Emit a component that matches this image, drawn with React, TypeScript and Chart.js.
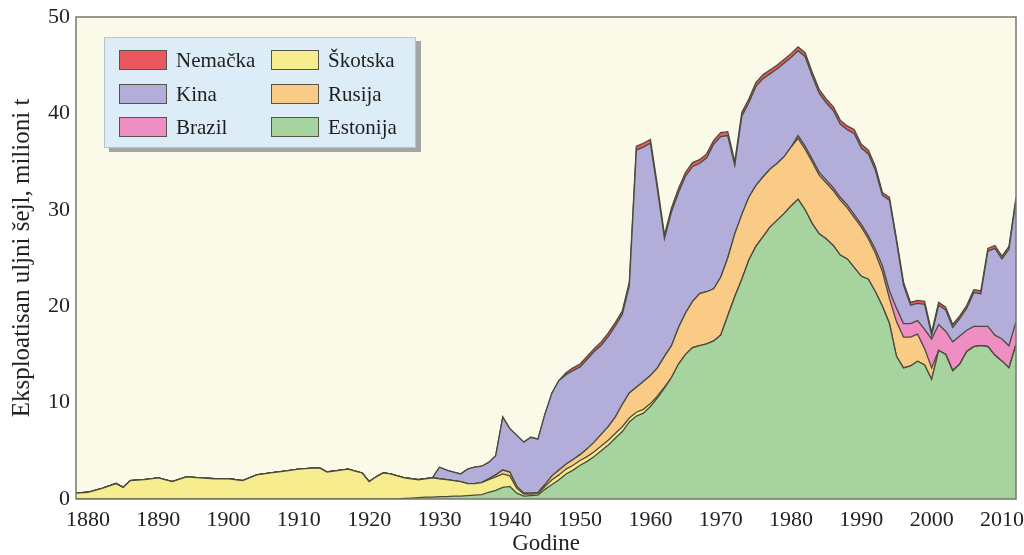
import React, { useEffect, useRef } from "react";
import { Chart, registerables } from "chart.js";

Chart.register(...registerables);

// ---- data (million tonnes of oil shale) ----
const years = [
  1878, 1880, 1882, 1884, 1885, 1886, 1888, 1890, 1892, 1894,
  1896, 1898, 1900, 1902, 1904, 1906, 1908, 1910, 1912, 1913,
  1914, 1916, 1917, 1918, 1919, 1920, 1921, 1922, 1923, 1924,
  1925, 1926, 1927, 1928, 1929,
  1930, 1931, 1932, 1933, 1934, 1935, 1936, 1937, 1938, 1939,
  1940, 1941, 1942, 1943, 1944, 1945, 1946, 1947, 1948, 1949,
  1950, 1951, 1952, 1953, 1954, 1955, 1956, 1957, 1958, 1959,
  1960, 1961, 1962, 1963, 1964, 1965, 1966, 1967, 1968, 1969,
  1970, 1971, 1972, 1973, 1974, 1975, 1976, 1977, 1978, 1979,
  1980, 1981, 1982, 1983, 1984, 1985, 1986, 1987, 1988, 1989,
  1990, 1991, 1992, 1993, 1994, 1995, 1996, 1997, 1998, 1999,
  2000, 2001, 2002, 2003, 2004, 2005, 2006, 2007, 2008, 2009,
  2010, 2011, 2012,
];

const estonija = [
  0, 0, 0, 0, 0, 0, 0, 0, 0, 0,
  0, 0, 0, 0, 0, 0, 0, 0, 0, 0,
  0, 0, 0, 0, 0, 0, 0, 0, 0, 0,
  0.05, 0.1, 0.15, 0.2, 0.2,
  0.25, 0.25, 0.3, 0.3, 0.35, 0.4, 0.45, 0.7, 0.9, 1.2,
  1.3, 0.6, 0.3, 0.35, 0.4, 1.0, 1.5, 2.0, 2.6, 3.0,
  3.5, 3.9, 4.4, 5.0, 5.6, 6.3, 7.0, 8.0, 8.6, 8.9,
  9.6, 10.5, 11.5, 12.6, 14.0, 15.0, 15.7, 15.9, 16.1, 16.4,
  17.0, 19.0, 21.0, 22.8, 24.8, 26.2, 27.2, 28.2, 28.9, 29.6,
  30.4, 31.1, 30.0, 28.6, 27.5, 27.0, 26.3, 25.3, 24.9, 24.0,
  23.1, 22.8, 21.5, 20.0, 18.2, 14.8, 13.6, 13.8, 14.3, 13.9,
  12.4, 15.4, 15.0, 13.3, 14.0, 15.3, 15.8, 15.9, 15.8, 14.9,
  14.3, 13.6, 16.0,
];

const skotska = [
  0.6, 0.7, 1.1, 1.6, 1.2, 1.9, 2.0, 2.2, 1.8, 2.3,
  2.2, 2.1, 2.1, 1.9, 2.5, 2.7, 2.9, 3.1, 3.2, 3.2,
  2.8, 3.0, 3.1, 2.9, 2.7, 1.8, 2.3, 2.7, 2.6, 2.4,
  2.15, 2.0, 1.85, 1.9, 2.0,
  1.85, 1.75, 1.6, 1.5, 1.25, 1.2, 1.25, 1.3, 1.4, 1.4,
  1.1, 0.5, 0.2, 0.15, 0.15, 0.3, 0.5, 0.5, 0.5, 0.5,
  0.5, 0.5, 0.5, 0.5, 0.5, 0.5, 0.5, 0.4, 0.4, 0.4,
  0.3, 0.2, 0.1, 0, 0, 0, 0, 0, 0, 0,
  0, 0, 0, 0, 0, 0, 0, 0, 0, 0,
  0, 0, 0, 0, 0, 0, 0, 0, 0, 0,
  0, 0, 0, 0, 0, 0, 0, 0, 0, 0,
  0, 0, 0, 0, 0, 0, 0, 0, 0, 0,
  0, 0, 0,
];

const rusija = [
  0, 0, 0, 0, 0, 0, 0, 0, 0, 0,
  0, 0, 0, 0, 0, 0, 0, 0, 0, 0,
  0, 0, 0, 0, 0, 0, 0, 0, 0, 0,
  0, 0, 0, 0, 0,
  0, 0, 0, 0, 0, 0, 0, 0.1, 0.2, 0.4,
  0.4, 0.2, 0.1, 0.1, 0.1, 0.2, 0.4, 0.5, 0.5, 0.6,
  0.6, 0.8, 1.0, 1.2, 1.4, 1.7, 2.3, 2.6, 2.6, 2.9,
  2.9, 2.9, 3.2, 3.3, 3.8, 4.3, 4.8, 5.4, 5.4, 5.4,
  6.0, 6.0, 6.5, 6.7, 6.5, 6.3, 6.2, 6.0, 5.9, 5.9,
  6.1, 6.3, 6.3, 6.4, 6.1, 5.8, 5.7, 5.7, 5.3, 5.2,
  5.1, 4.2, 4.0, 3.6, 2.6, 3.6, 3.2, 3.0, 2.8, 1.7,
  1.2, 0, 0, 0, 0, 0, 0, 0, 0, 0,
  0, 0, 0,
];

const brazil = [
  0, 0, 0, 0, 0, 0, 0, 0, 0, 0,
  0, 0, 0, 0, 0, 0, 0, 0, 0, 0,
  0, 0, 0, 0, 0, 0, 0, 0, 0, 0,
  0, 0, 0, 0, 0,
  0, 0, 0, 0, 0, 0, 0, 0, 0, 0,
  0, 0, 0, 0, 0, 0, 0, 0, 0, 0,
  0, 0, 0, 0, 0, 0, 0, 0, 0, 0,
  0, 0, 0, 0, 0, 0, 0, 0, 0, 0,
  0, 0, 0, 0, 0, 0, 0, 0, 0, 0,
  0, 0.3, 0.3, 0.3, 0.3, 0.3, 0.3, 0.3, 0.3, 0.3,
  0.3, 0.3, 0.4, 0.6, 0.8, 1.4, 1.4, 1.4, 1.4, 2.0,
  3.0, 2.7, 2.4, 3.0, 2.9, 2.2, 2.1, 2.0, 2.1, 2.1,
  2.3, 2.3, 2.4,
];

const kina = [
  0, 0, 0, 0, 0, 0, 0, 0, 0, 0,
  0, 0, 0, 0, 0, 0, 0, 0, 0, 0,
  0, 0, 0, 0, 0, 0, 0, 0, 0, 0,
  0, 0, 0, 0, 0,
  1.2, 1.0, 0.9, 0.8, 1.5, 1.7, 1.7, 1.7, 2.0, 5.5,
  4.5, 5.3, 5.3, 5.8, 5.55, 7.3, 8.6, 9.3, 9.3, 9.2,
  9.1, 9.3, 9.4, 9.25, 9.35, 9.45, 9.35, 11.1, 24.6, 24.3,
  24.1, 18.5, 12.2, 13.9, 14.0, 14.2, 14.0, 13.5, 13.9, 15.0,
  14.6, 12.7, 7.1, 10.2, 9.8, 10.3, 10.2, 9.9, 9.8, 9.7,
  9.3, 8.8, 9.3, 8.6, 8.2, 8.0, 8.0, 7.6, 7.8, 8.4,
  7.9, 8.5, 8.2, 7.3, 9.4, 6.9, 4.0, 1.9, 1.8, 2.6,
  0.4, 2.0, 2.2, 1.5, 1.8, 2.3, 3.5, 3.4, 7.8, 9.0,
  8.3, 10.0, 12.6,
];

const nemacka = [
  0, 0, 0, 0, 0, 0, 0, 0, 0, 0,
  0, 0, 0, 0, 0, 0, 0, 0, 0, 0,
  0, 0, 0, 0, 0, 0, 0, 0, 0, 0,
  0, 0, 0, 0, 0,
  0, 0, 0, 0, 0, 0, 0, 0, 0, 0,
  0, 0, 0, 0, 0, 0, 0, 0, 0.2, 0.3,
  0.3, 0.3, 0.3, 0.35, 0.35, 0.35, 0.35, 0.4, 0.4, 0.4,
  0.4, 0.4, 0.4, 0.4, 0.4, 0.4, 0.4, 0.4, 0.4, 0.4,
  0.4, 0.4, 0.4, 0.4, 0.4, 0.4, 0.4, 0.4, 0.4, 0.4,
  0.4, 0.4, 0.4, 0.4, 0.4, 0.4, 0.4, 0.4, 0.4, 0.4,
  0.4, 0.4, 0.4, 0.3, 0.3, 0.3, 0.3, 0.3, 0.3, 0.3,
  0.3, 0.3, 0.3, 0.3, 0.3, 0.3, 0.3, 0.3, 0.3, 0.3,
  0.3, 0.3, 0.3,
];

const xTickYears = [1880, 1890, 1900, 1910, 1920, 1930, 1940, 1950, 1960, 1970, 1980, 1990, 2000, 2010];
const yTickValues = [0, 10, 20, 30, 40, 50];

const yTitle = "Eksploatisan uljni šejl, milioni t";
const xTitle = "Godine";

// stacking order bottom -> top
const seriesNames = ["Estonija", "Škotska", "Rusija", "Brazil", "Kina", "Nemačka"];
const seriesValues = [estonija, skotska, rusija, brazil, kina, nemacka];
const seriesColors = ["#A6D39E", "#F8ED8E", "#FACB86", "#EE8EC2", "#B3ADDA", "#E9585F"];

// legend layout (two columns)
const legendColumns = [
  ["Nemačka", "Kina", "Brazil"],
  ["Škotska", "Rusija", "Estonija"],
];

const FONT = "'Liberation Serif', 'Times New Roman', serif";

const bgPlugin = {
  id: "plotBackground",
  beforeDraw(chart: any) {
    const { ctx, chartArea } = chart;
    const { left, top, right, bottom } = chartArea;
    ctx.save();
    ctx.fillStyle = "#FBF9E7";
    ctx.fillRect(left, top, right - left, bottom - top);
    ctx.restore();
  },
  afterDatasetsDraw(chart: any) {
    const { ctx, chartArea } = chart;
    const { left, top, right, bottom } = chartArea;
    ctx.save();
    ctx.strokeStyle = "#77776c";
    ctx.lineWidth = 1.5;
    ctx.strokeRect(left, top, right - left, bottom - top);
    ctx.restore();
  },
};

export default function App() {
  const canvasRef = useRef<HTMLCanvasElement | null>(null);

  useEffect(() => {
    if (!canvasRef.current) return;
    const datasets = seriesNames.map((name, si) => ({
      label: name,
      data: years.map((yr, i) => ({ x: yr, y: seriesValues[si][i] })),
      backgroundColor: seriesColors[si],
      borderColor: "#4a4a3e",
      borderWidth: 1.3,
      pointRadius: 0,
      tension: 0,
      fill: si === 0 ? "origin" : "-1",
    }));

    const chart = new Chart(canvasRef.current, {
      type: "line",
      data: { datasets },
      plugins: [bgPlugin],
      options: {
        animation: false,
        responsive: false,
        devicePixelRatio: 1,
        layout: { padding: { top: 17, right: 8, left: 0, bottom: 0 } },
        plugins: {
          legend: { display: false },
          tooltip: { enabled: false },
        },
        scales: {
          x: {
            type: "linear",
            min: 1878.3,
            max: 2012,
            grid: { display: false, drawTicks: false },
            border: { display: false },
            afterBuildTicks: (scale: any) => {
              scale.ticks = xTickYears.map((v) => ({ value: v }));
            },
            afterFit: (scale: any) => {
              scale.height = 56;
              scale.paddingLeft = 0;
              scale.paddingRight = 0;
            },
            ticks: {
              autoSkip: false,
              maxRotation: 0,
              padding: 8,
              color: "#222",
              font: { family: FONT, size: 22 },
              callback: (v: any) => String(v),
            },
            title: {
              display: true,
              text: xTitle,
              color: "#222",
              font: { family: FONT, size: 23, lineHeight: 1.0 },
              padding: { top: 0, bottom: 0 },
            },
          },
          y: {
            type: "linear",
            stacked: true,
            min: 0,
            max: 50,
            grid: { display: false, drawTicks: false },
            border: { display: false },
            afterBuildTicks: (scale: any) => {
              scale.ticks = yTickValues.map((v) => ({ value: v }));
            },
            afterFit: (scale: any) => {
              scale.width = 76;
              scale.paddingTop = 0;
              scale.paddingBottom = 0;
            },
            ticks: {
              padding: 6,
              color: "#222",
              font: { family: FONT, size: 22 },
            },
            title: {
              display: true,
              text: yTitle,
              color: "#222",
              font: { family: FONT, size: 25, lineHeight: 1.2 },
              padding: { top: 7, bottom: 0 },
            },
          },
        },
      },
    });
    return () => chart.destroy();
  }, []);

  const colorOf = (name: string) => seriesColors[seriesNames.indexOf(name)];

  return (
    <div style={{ position: "fixed", left: 0, top: 0, width: 1024, height: 555, background: "#fff" }}>
      <canvas ref={canvasRef} width={1024} height={555} style={{ display: "block" }} />
      <div
        style={{
          position: "absolute",
          left: 104,
          top: 37,
          width: 312,
          height: 111,
          background: "#DCEDF7",
          border: "1px solid #b9c3c9",
          boxShadow: "5px 4px 0 #a4a6a6",
          boxSizing: "border-box",
        }}
      >
        {legendColumns.map((col, ci) =>
          col.map((name, ri) => (
            <div
              key={name}
              style={{
                position: "absolute",
                left: ci === 0 ? 14 : 166,
                top: 11 + ri * 33.5,
                height: 22,
                display: "flex",
                alignItems: "center",
                whiteSpace: "nowrap",
              }}
            >
              <span
                style={{
                  display: "inline-block",
                  width: 48,
                  height: 20,
                  boxSizing: "border-box",
                  background: colorOf(name),
                  border: "1.5px solid #55554a",
                }}
              />
              <span
                style={{
                  marginLeft: 9,
                  fontFamily: FONT,
                  fontSize: 21,
                  lineHeight: "22px",
                  color: "#1e1e1e",
                }}
              >
                {name}
              </span>
            </div>
          ))
        )}
      </div>
    </div>
  );
}
